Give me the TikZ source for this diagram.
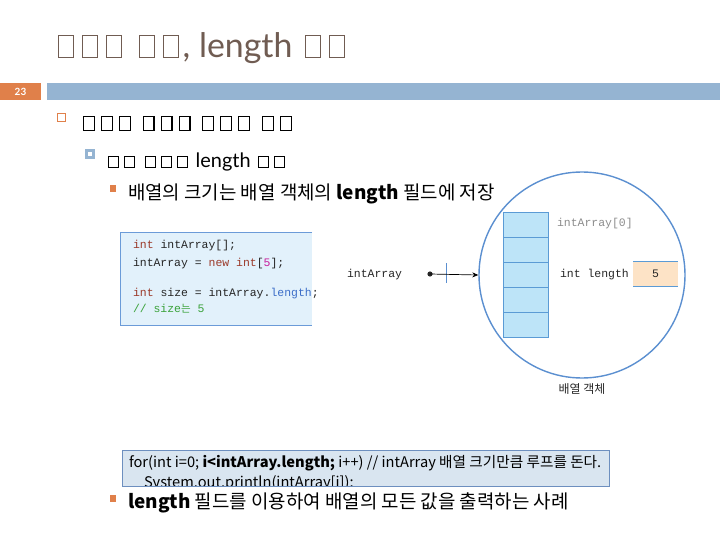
\documentclass[tikz,border=0pt]{standalone}
\usepackage{fontspec}
\usetikzlibrary{arrows.meta}
\setmainfont{Lato}
\newfontfamily\kr{Noto Sans CJK KR}
\newfontfamily\codefont{Liberation Mono}
\definecolor{titlebrown}{HTML}{705C52}
\definecolor{accentorange}{HTML}{E0804A}
\definecolor{barblue}{HTML}{95B4D2}
\definecolor{codebg}{HTML}{E2F1FB}
\definecolor{codeline}{HTML}{6B9BD8}
\definecolor{kwred}{HTML}{9B3A2A}
\definecolor{numpink}{HTML}{C81C9B}
\definecolor{fieldblue}{HTML}{3C6EC8}
\definecolor{cmtgreen}{HTML}{3AA23A}
\definecolor{cellfill}{HTML}{BDE4F8}
\definecolor{cellline}{HTML}{5B9BD5}
\definecolor{ringblue}{HTML}{5B8FD0}
\definecolor{peach}{HTML}{FDE3C6}
\definecolor{loopbg}{HTML}{D9E5F0}
\definecolor{loopline}{HTML}{6D8FBF}
% a hollow box standing for a glyph the slide font could not show:
% width, height, side kern, stroke
\newcommand\tofu[4]{\kern#3\hbox{\vrule width #4\vbox to #2{\hrule width \dimexpr#1-#4-#4\relax height #4\vfill\hrule height #4}\vrule width #4}\kern#3}
\newcommand\Ttofu{\tofu{16bp}{23bp}{4bp}{1bp}}
\newcommand\Atofu{\tofu{12bp}{15bp}{3bp}{1.2bp}}
\newcommand\Btofu{\tofu{11bp}{12bp}{2.5bp}{1.1bp}}
\begin{document}
\begin{tikzpicture}[x=1bp,y=-1bp,
  txt/.style={anchor=base west,inner sep=0pt,outer sep=0pt},
  code/.style={txt,font=\codefont\fontsize{11.5}{13}\selectfont,text=black!85},
  arr/.style={-{Stealth[length=6bp,width=5bp]},line width=0.7bp}]
\useasboundingbox (0,0) rectangle (720,540);

% title and header bar
\node[txt,text=titlebrown,font=\fontsize{34}{38}\selectfont] (title) at (54,58)
  {\Ttofu\Ttofu\Ttofu\ \Ttofu\Ttofu, length \Ttofu\Ttofu};
\fill[accentorange] (0,83) rectangle (41,100);
\node[text=white,font=\bfseries\fontsize{10}{12}\selectfont] (page) at (20.5,91.8) {23};
\fill[barblue] (47,83) rectangle (720,100);

% bullet level 1
\draw[accentorange,line width=1bp] (57,114) rectangle (65,122);
\node[txt,font=\fontsize{22}{24}\selectfont] (l1) at (80,131)
  {\Atofu\Atofu\Atofu\ \Atofu\Atofu\Atofu\ \Atofu\Atofu\Atofu\ \Atofu\Atofu};

% bullet level 2
\fill[barblue] (85,149) rectangle (95,159);
\fill[white] (88.3,152.3) rectangle (91.7,155.7);
\node[txt,font=\fontsize{20}{22}\selectfont] (l2) at (105.5,168)
  {\Btofu\Btofu\ \Btofu\Btofu\Btofu\ length \Btofu\Btofu};

% bullet level 3
\fill[accentorange] (110,185) rectangle (116,192);
\node[txt,font=\kr\fontsize{19}{22}\selectfont] (l3) at (128,200)
  {배열의 크기는 배열 객체의 \textbf{length} 필드에 저장};

% code sample
\fill[codebg] (120,232) rectangle (312,325);
\draw[codeline,line width=0.9bp] (312,232) -- (120,232) -- (120,325) -- (312,325);
\node[code] (c1) at (133,249) {\textcolor{kwred}{int} intArray[];};
\node[code] (c2) at (133,267) {intArray = \textcolor{kwred}{new} \textcolor{kwred}{int}[\textcolor{numpink}{5}];};
\node[code] (c3) at (133,296) {\textcolor{kwred}{int} size = intArray.\textcolor{fieldblue}{length};};
\node[code,text=cmtgreen] (c4) at (133,312) {// size{\kr\fontsize{10.5}{13}\selectfont 는} 5};

% array object
\node[circle,draw=ringblue,line width=1.4bp,minimum size=206bp,inner sep=0pt] (obj) at (582,275) {};
\foreach \i in {0,...,4}
  \draw[cellline,fill=cellfill,line width=0.9bp] (503,212+25*\i) rectangle (548,237+25*\i);
\node[code,text=black!45] (elem) at (557,227) {intArray[0]};
\node[code] (lenlbl) at (560,278) {int length};
\fill[peach] (633,261) rectangle (678,286);
\draw[cellline,line width=0.9bp] (633,261) -- (678,261) (633,286) -- (678,286);
\node[code] (lenval) at (655.5,274) [anchor=center] {5};
\node[font=\kr\fontsize{12}{13}\selectfont,text=black!85] (objlbl) at (582,389) {배열 객체};

% reference variable
\node[code] (var) at (347,278) {intArray};
\fill[black!85] (430,274) circle (2.6);
\coordinate (dot) at (430,274);
\draw[ringblue,line width=0.8bp] (446,263) -- (446,283);
\draw[arr] (dot) -- (obj.west);

% loop example
\fill[loopbg] (122,450) rectangle (609,486);
\begin{scope}
  \clip (122,450) rectangle (609,486);
  \node[txt,font=\kr\fontsize{14.7}{16}\selectfont] (loop1) at (129,467)
    {for(int i=0; \textbf{i<intArray.length;} i++) // intArray 배열 크기만큼 루프를 돈다.};
  \node[txt,font=\kr\fontsize{14.7}{16}\selectfont] (loop2) at (144,487)
    {System.out.println(intArray[i]);};
\end{scope}
\draw[loopline,line width=0.9bp] (122,450) rectangle (609,486);

% bullet level 3, second
\fill[accentorange] (110,495) rectangle (116,502);
\node[txt,font=\kr\fontsize{19}{22}\selectfont] (l4) at (128,508)
  {\textbf{length} 필드를 이용하여 배열의 모든 값을 출력하는 사례};
\end{tikzpicture}
\end{document}
